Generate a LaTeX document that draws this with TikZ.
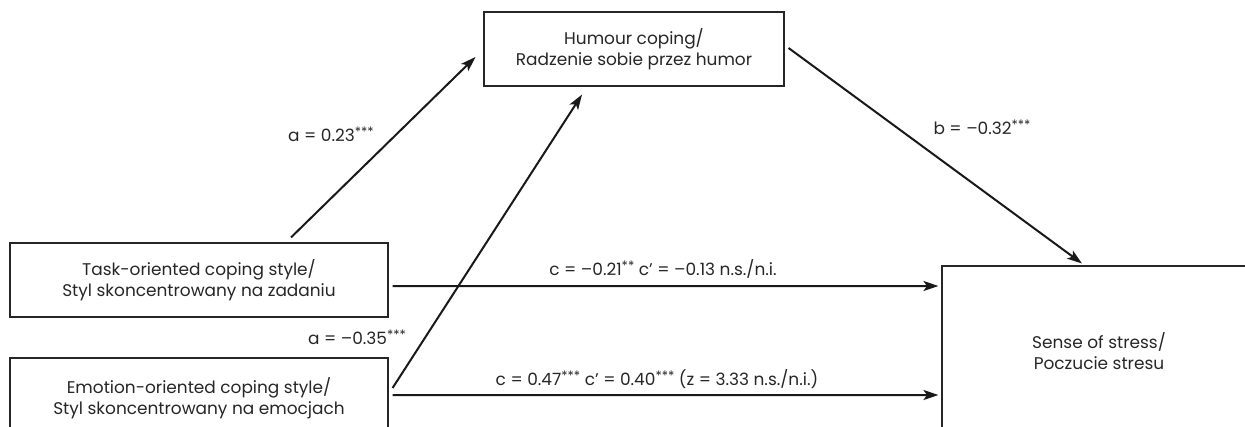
\documentclass[tikz,border=0pt]{standalone}
\usepackage{fontspec}
\setmainfont{Poppins}
\usetikzlibrary{arrows.meta}
\newcommand{\stars}[1]{\raisebox{0.5ex}{\fontsize{13}{13}\selectfont #1}}
\begin{document}
\begin{tikzpicture}[x=1bp,y=-1bp,
  box/.style={draw=black!85, line width=1.1bp, align=center, inner sep=0pt,
    font=\fontsize{17}{21.5}\selectfont, text=black!85},
  conn/.style={line width=2bp, draw=black!90, -{Stealth[length=15bp,width=10bp,inset=3.5bp]}},
  lab/.style={font=\fontsize{17}{20}\selectfont, inner sep=0pt, text=black!85}]
\useasboundingbox (0,0) rectangle (1245,426);
\node[box, minimum width=300bp, minimum height=74bp] (hum) at (634,49)
  {Humour coping/\\Radzenie sobie przez humor};
\node[box, minimum width=378bp, minimum height=74bp] (task) at (199,280)
  {Task-oriented coping style/\\Styl skoncentrowany na zadaniu};
\node[box, minimum width=378bp, minimum height=80bp] (emo) at (199,398)
  {Emotion-oriented coping style/\\Styl skoncentrowany na emocjach};
\node[box, minimum width=314bp, minimum height=170bp] (stress) at (1099,351)
  {Sense of stress/\\Poczucie stresu};

\draw[conn] ([xshift=92bp,yshift=5bp]task.north) -- ([xshift=-8bp,yshift=-8bp]hum.west);
\draw[conn] ([xshift=4bp,yshift=10bp]emo.east) -- ([xshift=-52bp,yshift=-8bp]hum.south);
\draw[conn] ([xshift=4bp,yshift=1bp]hum.east) -- ([xshift=-17bp,yshift=2bp]stress.north);
\draw[conn] ([xshift=4bp,yshift=-6bp]task.east) -- ([xshift=-3bp,yshift=65bp]stress.west);
\draw[conn] ([xshift=4bp,yshift=3bp]emo.east) -- ([xshift=-3bp,yshift=-44bp]stress.west);

\node[lab] (la1) at (331,134) {a = 0.23\stars{***}};
\node[lab] (la2) at (357,337) {a = –0.35\stars{***}};
\node[lab] (lb) at (982,127) {b = –0.32\stars{***}};
\node[lab] (lc1) at (663,269) {c = –0.21\stars{**} c’ = –0.13 n.s./n.i.};
\node[lab] (lc2) at (657,379) {c = 0.47\stars{***} c’ = 0.40\stars{***} (z = 3.33 n.s./n.i.)};
\end{tikzpicture}
\end{document}
